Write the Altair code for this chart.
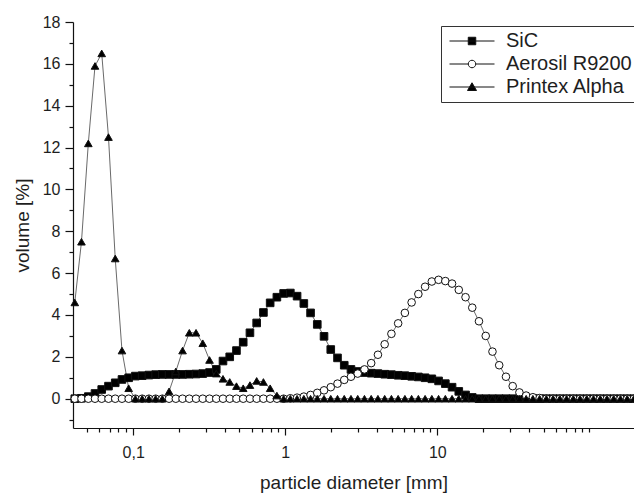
import altair as alt
import pandas as pd

diameter = [0.0413, 0.0457, 0.0507, 0.0561, 0.0621, 0.0688, 0.0762, 0.0844, 0.0934, 0.1034,
            0.1146, 0.1269, 0.1405, 0.1555, 0.1722, 0.1907, 0.2112, 0.2339, 0.2590, 0.2868,
            0.3177, 0.3518, 0.3896, 0.4314, 0.4777, 0.5291, 0.5859, 0.6488, 0.7185, 0.7957,
            0.8810, 0.9757, 1.080, 1.196, 1.325, 1.467, 1.624, 1.799, 1.992, 2.206,
            2.443, 2.705, 2.996, 3.318, 3.674, 4.069, 4.506, 4.990, 5.526, 6.120,
            6.776, 7.505, 8.311, 9.203, 10.19, 11.29, 12.50, 13.84, 15.33, 16.97,
            18.79, 20.81, 23.05, 25.52, 28.27, 31.30, 34.66, 38.38, 42.50, 47.07,
            52.12, 57.72, 63.92, 70.78, 78.38, 86.79, 96.10, 106.4, 117.9, 130.5,
            144.5, 160.1, 177.3, 196.3]

sic = [0, 0.02, 0.1, 0.25, 0.44, 0.6, 0.76, 0.92, 1.0, 1.08,
       1.1, 1.13, 1.15, 1.16, 1.16, 1.16, 1.16, 1.17, 1.18, 1.2,
       1.25, 1.4, 1.8, 2.0, 2.3, 2.7, 3.15, 3.62, 4.12, 4.58,
       4.85, 5.03, 5.05, 4.9, 4.55, 4.1, 3.55, 2.98, 2.35, 1.95,
       1.6, 1.4, 1.3, 1.25, 1.22, 1.2, 1.17, 1.15, 1.12, 1.1,
       1.07, 1.04, 1.0, 0.95, 0.85, 0.72, 0.55, 0.35, 0.18, 0.06,
       0, 0, 0, 0, 0, 0, 0, 0, 0, 0,
       0, 0, 0, 0, 0, 0, 0, 0, 0, 0,
       0, 0, 0, 0]

aerosil = [0, 0, 0, 0, 0, 0, 0, 0, 0, 0,
           0, 0, 0, 0, 0, 0, 0, 0, 0, 0,
           0, 0, 0, 0, 0, 0, 0, 0, 0, 0,
           0, 0, 0.02, 0.05, 0.1, 0.18, 0.28, 0.4, 0.55, 0.72,
           0.9, 1.05, 1.2, 1.4, 1.7, 2.1, 2.6, 3.1, 3.6, 4.1,
           4.6, 5.0, 5.35, 5.6, 5.68, 5.62, 5.5, 5.2, 4.85, 4.35,
           3.7, 3.0, 2.25, 1.6, 1.05, 0.6, 0.3, 0.15, 0.07, 0.03,
           0, 0, 0, 0, 0, 0, 0, 0, 0, 0,
           0, 0, 0, 0]

printex = [4.6, 7.5, 12.2, 15.9, 16.5, 12.5, 6.7, 2.3, 0.5, 0,
           0, 0, 0, 0, 0.35, 1.3, 2.3, 3.15, 3.15, 2.65,
           1.85, 1.2, 0.95, 0.8, 0.6, 0.5, 0.65, 0.85, 0.8, 0.5,
           0.15, 0, 0, 0, 0, 0, 0, 0, 0, 0,
           0, 0, 0, 0, 0, 0, 0, 0, 0, 0,
           0, 0, 0, 0, 0, 0, 0, 0, 0, 0,
           0, 0, 0, 0, 0, 0, 0, 0, 0, 0,
           0, 0, 0, 0, 0, 0, 0, 0, 0, 0,
           0, 0, 0, 0]

series_names = ["SiC", "Aerosil R9200", "Printex Alpha"]

x_major = [0.1, 1, 10]
x_minor = [0.05, 0.06, 0.07, 0.08, 0.09,
           0.2, 0.3, 0.4, 0.5, 0.6, 0.7, 0.8, 0.9,
           2, 3, 4, 5, 6, 7, 8, 9,
           20, 30, 40, 50, 60, 70, 80, 90, 100]
y_major = [0, 2, 4, 6, 8, 10, 12, 14, 16, 18]
y_minor = [-1, 1, 3, 5, 7, 9, 11, 13, 15, 17]

rows = []
for name, vals in zip(series_names, [sic, aerosil, printex]):
    for d, v in zip(diameter, vals):
        rows.append({"d": d, "v": v, "series": name})
df = pd.DataFrame(rows)

FONT = "Liberation Sans"
TXT = "#1e1e1e"

xscale = alt.Scale(type="log", domain=[0.0402, 196.5], nice=False)
yscale = alt.Scale(domain=[-1.4, 18], nice=False, zero=False)

lines = alt.Chart(df).mark_line(color="#6a6a6a", strokeWidth=1).encode(
    x=alt.X("d:Q", scale=xscale,
            axis=alt.Axis(values=x_major, orient="bottom", tickSize=7, grid=False,
                          labelExpr="replace(format(datum.value, '~g'), '.', ',')",
                          labelFontSize=16, labelPadding=9, labelColor=TXT, labelFont=FONT,
                          labelFlush=False,
                          title="particle diameter [mm]", titleFontSize=19, titleFont=FONT,
                          titleColor=TXT, titleFontWeight="normal", titlePadding=13,
                          domainColor="#111", tickColor="#111", domainWidth=1.2, tickWidth=1.2)),
    y=alt.Y("v:Q", scale=yscale,
            axis=alt.Axis(values=y_major, orient="left", tickSize=8, grid=False,
                          labelFontSize=16, labelPadding=5, labelColor=TXT, labelFont=FONT,
                          title="volume [%]", titleFontSize=19, titleFont=FONT,
                          titleColor=TXT, titleFontWeight="normal", titlePadding=10,
                          domainColor="#111", tickColor="#111", domainWidth=1.2, tickWidth=1.2)),
    detail="series:N",
)

points = alt.Chart(df).mark_point(filled=True, stroke="#111", strokeWidth=1, opacity=1).encode(
    x=alt.X("d:Q", scale=xscale,
            axis=alt.Axis(values=x_minor, orient="bottom", tickSize=4, labels=False,
                          domain=False, grid=False, title=None, tickColor="#111", tickWidth=1.2)),
    y=alt.Y("v:Q", scale=yscale,
            axis=alt.Axis(values=y_minor, orient="left", tickSize=4, labels=False,
                          domain=False, grid=False, title=None, tickColor="#111", tickWidth=1.2)),
    shape=alt.Shape("series:N", scale=alt.Scale(domain=series_names,
                                                 range=["square", "circle", "triangle-up"]),
                    legend=None),
    fill=alt.Fill("series:N", scale=alt.Scale(domain=series_names,
                                               range=["#000000", "#ffffff", "#000000"]),
                  legend=None),
    size=alt.Size("series:N", scale=alt.Scale(domain=series_names, range=[58, 58, 85]),
                  legend=None),
)

legend_paths = [
    "M-4.5,0H4.5M-0.75,-0.75H0.75V0.75H-0.75Z",
    "M-4.5,0H-0.75M0.75,0H4.5M0.75,0A0.75,0.75 0 1,1 -0.75,0A0.75,0.75 0 1,1 0.75,0Z",
    "M-4.5,0H4.5M0,-0.85L0.9,0.7H-0.9Z",
]
leg = alt.Legend(title=None, orient="none", legendX=368, legendY=4,
                 strokeColor="#333", padding=5, symbolSize=100, symbolStrokeWidth=1,
                 symbolOpacity=1, symbolOffset=16, labelOffset=24,
                 labelFontSize=20, labelFont=FONT, labelColor=TXT, rowPadding=3)

legend_layer = alt.Chart(df).transform_filter("false").mark_point(
    filled=True, opacity=1, strokeWidth=1
).encode(
    x=alt.X("d:Q", scale=xscale, axis=None),
    y=alt.Y("v:Q", scale=yscale, axis=None),
    shape=alt.Shape("series:N", scale=alt.Scale(domain=series_names, range=legend_paths),
                    legend=leg),
    fill=alt.Fill("series:N", scale=alt.Scale(domain=series_names,
                                               range=["#000000", "#ffffff", "#000000"]),
                  legend=leg),
    stroke=alt.Stroke("series:N", scale=alt.Scale(domain=series_names,
                                                   range=["#111111", "#111111", "#111111"]),
                      legend=leg),
)

chart = alt.layer(lines, points, legend_layer).resolve_axis(
    x="independent", y="independent"
).resolve_scale(
    shape="independent", fill="independent", size="independent", stroke="independent"
).properties(
    width=561, height=406,
    autosize=alt.AutoSizeParams(type="none"),
    padding={"left": 73, "top": 22, "right": 0, "bottom": 66},
    background="white",
).configure_view(stroke=None)

chart.save("out.html", embed_options={"renderer": "svg", "actions": False})
